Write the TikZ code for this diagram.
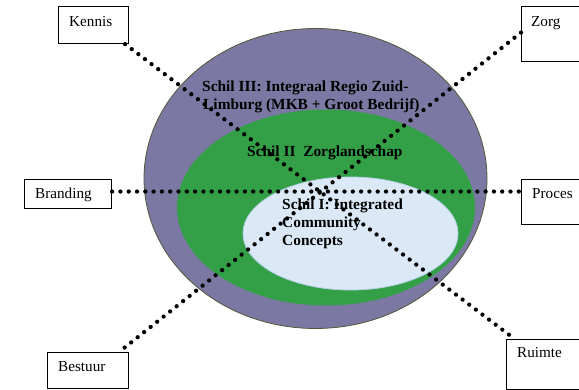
\documentclass[tikz,border=0pt]{standalone}
\usepackage{fontspec}
\setmainfont{Liberation Serif}
\definecolor{outerring}{HTML}{7B79A3}
\definecolor{outeredge}{HTML}{55553A}
\definecolor{midring}{HTML}{33A047}
\definecolor{corefill}{HTML}{DAE9F5}
\definecolor{coreedge}{HTML}{B5D0E8}
\tikzset{
  box/.style={draw=black, line width=1.1pt, anchor=north west, inner sep=0pt},
  boxlabel/.style={anchor=base west, inner sep=0pt, font=\fontsize{15.2}{18}\selectfont},
  shell/.style={anchor=base west, inner sep=0pt, align=left,
    font=\fontsize{15.4}{18}\selectfont\bfseries},
  link/.style={line width=4.3pt, line cap=round, dash pattern=on 0pt off 8.3pt}
}
\begin{document}
\begin{tikzpicture}[x=1pt, y=-1pt]
\useasboundingbox (0,0) rectangle (579,390);
\clip (0,0) rectangle (579,390);

% nested shells
\fill[outerring, draw=outeredge, line width=0.8pt] (315.5,178.5) ellipse [x radius=171.5pt, y radius=150pt];
\fill[midring] (326,207.5) ellipse [x radius=149pt, y radius=98pt];
\fill[corefill, draw=coreedge, line width=0.8pt] (350.5,233.5) ellipse [x radius=107.5pt, y radius=56.5pt];

% shell captions
\node[shell] (s3a) at (202,92) {Schil III: Integraal Regio Zuid-};
\node[shell] (s3b) at (203,110) {Limburg (MKB + Groot Bedrijf)};
\node[shell] (s2) at (247,157) {Schil II\ \ Zorglandschap};
\node[shell] (s1a) at (282,210) {Schil I: Integrated};
\node[shell] (s1b) at (282,228) {Community};
\node[shell] (s1c) at (282,246) {Concepts};

% outer boxes
\node[box, minimum width=70pt, minimum height=37pt] (kennis) at (58,6) {};
\node[box, minimum width=80pt, minimum height=55pt] (zorg) at (521,6) {};
\node[box, minimum width=87pt, minimum height=29pt] (branding) at (24,179) {};
\node[box, minimum width=80pt, minimum height=45pt] (proces) at (521,179) {};
\node[box, minimum width=81pt, minimum height=36pt] (bestuur) at (47,352) {};
\node[box, minimum width=90pt, minimum height=50pt] (ruimte) at (506,339) {};

\node[boxlabel] (lkennis) at (69,27) {Kennis};
\node[boxlabel] (lzorg) at (531,27) {Zorg};
\node[boxlabel] (lbranding) at (35,199) {Branding};
\node[boxlabel] (lproces) at (532,199) {Proces};
\node[boxlabel] (lbestuur) at (58,372) {Bestuur};
\node[boxlabel] (lruimte) at (517,358) {Ruimte};

% dotted connectors through the centre
\draw[link] ([xshift=-4pt]kennis.south east) -- ([xshift=6pt,yshift=2pt]ruimte.north west);
\draw[link] ([yshift=1.5pt]zorg.west) -- ([xshift=-10pt]bestuur.north east);
\draw[link] ([yshift=2.5pt]branding.east) -- ([yshift=2.5pt]branding.east -| proces.west);
\end{tikzpicture}
\end{document}
